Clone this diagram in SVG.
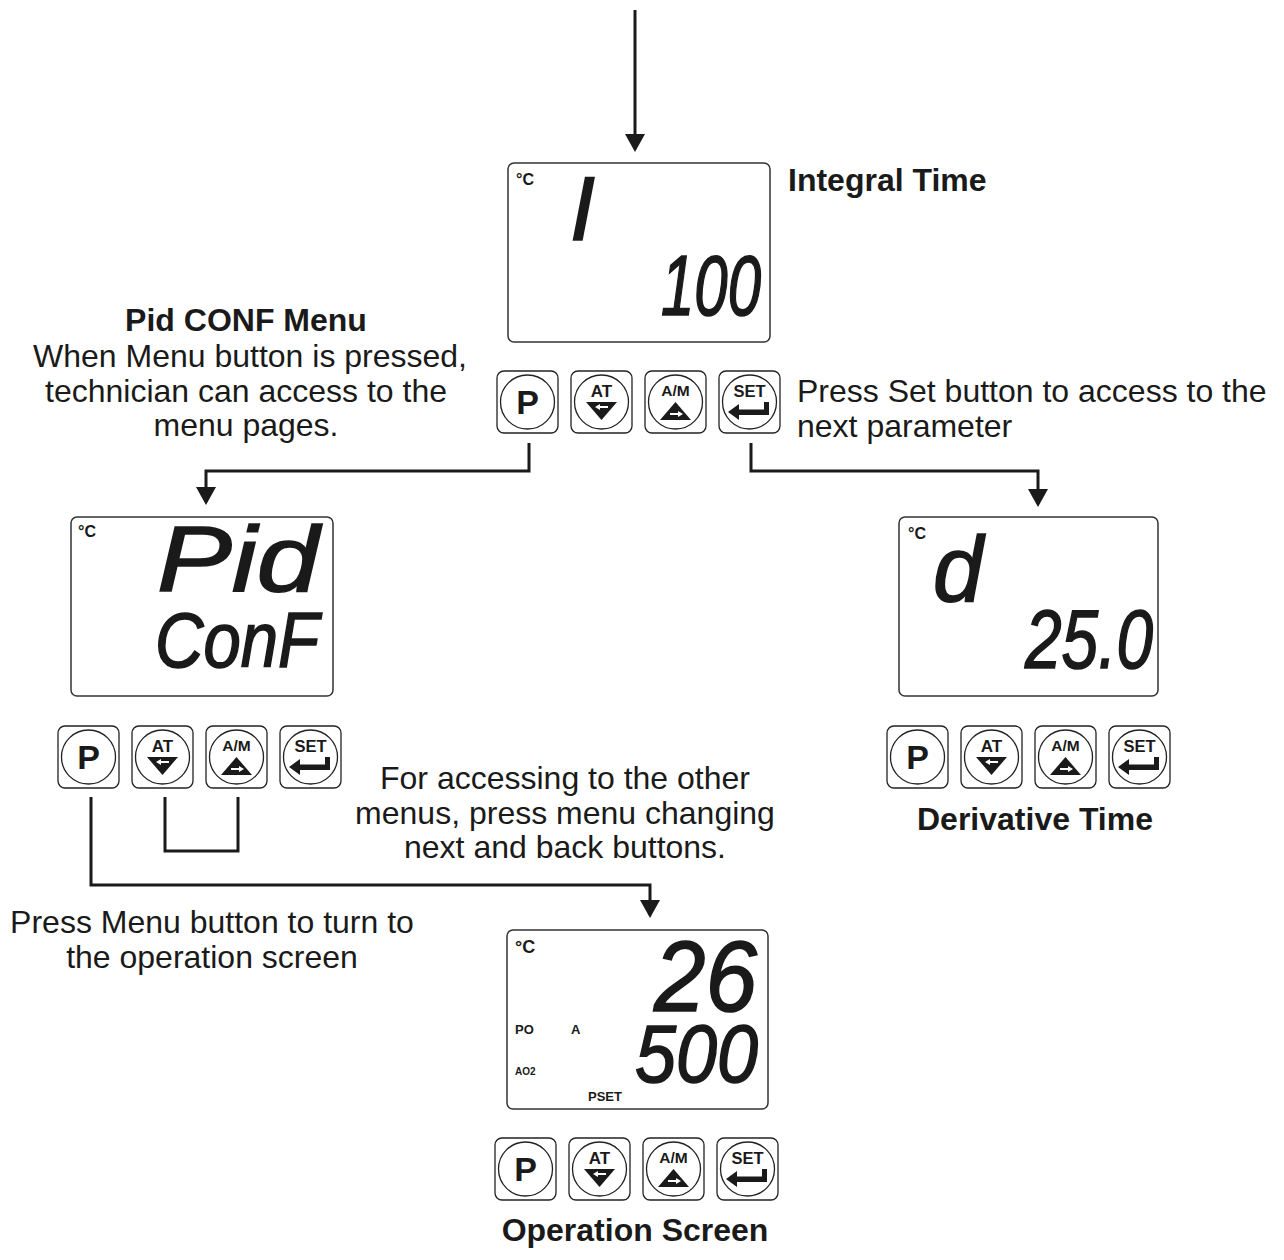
<svg xmlns="http://www.w3.org/2000/svg" xmlns:xlink="http://www.w3.org/1999/xlink" width="1284" height="1260" viewBox="0 0 1284 1260">
<style>
.lbl{font-family:"Liberation Sans",Arial,sans-serif;font-size:32px;fill:#1a1a1a;text-anchor:middle}
.lbl-l{font-family:"Liberation Sans",Arial,sans-serif;font-size:32px;fill:#1a1a1a}
.b{font-weight:bold}
.disp{fill:#fff;stroke:#333;stroke-width:1.5}
.ind{font-family:"Liberation Sans",Arial,sans-serif;font-weight:bold;fill:#1a1a1a}
.seg{font-family:"Liberation Sans",Arial,sans-serif;font-style:italic;fill:#1a1a1a;stroke:#1a1a1a;stroke-width:1.6}
.frame{fill:#fff;stroke:#222;stroke-width:1.3}
.btxt{font-family:"Liberation Sans",Arial,sans-serif;font-weight:bold;fill:#1a1a1a;text-anchor:middle}
.wire{fill:none;stroke:#1a1a1a;stroke-width:3}
</style>
<defs>
<marker id="ah" markerUnits="userSpaceOnUse" viewBox="0 0 18 20" refX="15" refY="10" markerWidth="18" markerHeight="20" orient="auto">
<path d="M0,0 L18,10 L0,20 z" fill="#1a1a1a"/>
</marker>
<g id="frame">
<rect class="frame" x="0" y="0" width="61" height="62" rx="7"/>
<circle class="frame" cx="30.5" cy="31" r="27"/>
</g>
<g id="bP">
<use xlink:href="#frame"/>
<text class="btxt" x="30.5" y="43" font-size="34">P</text>
</g>
<g id="bAT">
<use xlink:href="#frame"/>
<text class="btxt" x="30.5" y="26" font-size="17">AT</text>
<polygon points="15,31 46,31 30.5,49" fill="#1a1a1a"/>
<polygon points="24,36 29,33 29,35 37,35 37,37 29,37 29,39" fill="#fff"/>
</g>
<g id="bAM">
<use xlink:href="#frame"/>
<text class="btxt" x="30.5" y="25" font-size="15.5">A/M</text>
<polygon points="15,49 46,49 30.5,31" fill="#1a1a1a"/>
<polygon points="38,43 33,40 33,42 25,42 25,44 33,44 33,46" fill="#fff"/>
</g>
<g id="bSET">
<use xlink:href="#frame"/>
<text class="btxt" x="30.5" y="26" font-size="16.5">SET</text>
<polygon points="9,41 20,33 20,38.5 45,38.5 45,31 50,31 50,44 20,44 20,49" fill="#1a1a1a"/>
</g>
<g id="row">
<use xlink:href="#bP" x="0"/>
<use xlink:href="#bAT" x="74"/>
<use xlink:href="#bAM" x="148"/>
<use xlink:href="#bSET" x="222"/>
</g>
</defs>
<rect width="1284" height="1260" fill="#fff"/>

<g id="connectors">
<path class="wire" d="M635,10 V149" marker-end="url(#ah)"/>
<path class="wire" d="M529,443 V471 H206 V502" marker-end="url(#ah)"/>
<path class="wire" d="M751,443 V471 H1038 V504" marker-end="url(#ah)"/>
<path class="wire" d="M91,797 V885 H650 V915" marker-end="url(#ah)"/>
<path class="wire" d="M165,797 V851 H238 V797"/>
</g>

<g id="integral-time">
<rect class="disp" x="508" y="163" width="262" height="179" rx="6"/>
<text class="ind" x="516" y="185" font-size="16">°C</text>
<text class="seg" x="570" y="240" font-size="90">I</text>
<text class="seg" x="661" y="315" font-size="86" textLength="100" lengthAdjust="spacingAndGlyphs">100</text>
<use xlink:href="#row" x="497" y="371"/>
<text class="lbl-l b" x="788" y="191">Integral Time</text>
</g>

<g id="pid-conf">
<rect class="disp" x="71" y="517" width="262" height="179" rx="6"/>
<text class="ind" x="78" y="537" font-size="16">°C</text>
<text class="seg"><tspan x="157" y="591" font-size="92" textLength="162" lengthAdjust="spacingAndGlyphs">Pid</tspan><tspan x="155" y="667" font-size="78" textLength="164" lengthAdjust="spacingAndGlyphs">ConF</tspan></text>
<use xlink:href="#row" x="58" y="726"/>
</g>

<g id="derivative-time">
<rect class="disp" x="899" y="517" width="259" height="179" rx="6"/>
<text class="ind" x="908" y="539" font-size="16">°C</text>
<text class="seg" x="933" y="601" font-size="92" textLength="50" lengthAdjust="spacingAndGlyphs">d</text>
<text class="seg" x="1025" y="668" font-size="84" textLength="128" lengthAdjust="spacingAndGlyphs">25.0</text>
<use xlink:href="#row" x="887" y="726"/>
<text class="lbl b" x="1035" y="830">Derivative Time</text>
</g>

<g id="operation-screen">
<rect class="disp" x="507" y="930" width="261" height="179" rx="6"/>
<text class="ind" x="515" y="953" font-size="18">°C</text>
<text class="ind" x="515" y="1034" font-size="13">PO</text>
<text class="ind" x="571" y="1034" font-size="13">A</text>
<text class="ind" x="515" y="1075" font-size="10">AO2</text>
<text class="ind" x="588" y="1101" font-size="13">PSET</text>
<text class="seg"><tspan x="654" y="1011" font-size="100" textLength="103" lengthAdjust="spacingAndGlyphs">26</tspan><tspan x="635" y="1082" font-size="82" textLength="123" lengthAdjust="spacingAndGlyphs">500</tspan></text>
<use xlink:href="#row" x="495" y="1138"/>
<text class="lbl b" x="635" y="1241">Operation Screen</text>
</g>

<g id="notes">
<text class="lbl b" x="246" y="331">Pid CONF Menu</text>
<text class="lbl" x="250" y="367">When Menu button is pressed,</text>
<text class="lbl" x="246" y="402">technician can access to the</text>
<text class="lbl" x="246" y="436">menu pages.</text>
<text class="lbl-l" x="797" y="402">Press Set button to access to the</text>
<text class="lbl-l" x="797" y="437">next parameter</text>
<text class="lbl" x="565" y="789">For accessing to the other</text>
<text class="lbl" x="565" y="824">menus, press menu changing</text>
<text class="lbl" x="565" y="858">next and back buttons.</text>
<text class="lbl" x="212" y="933">Press Menu button to turn to</text>
<text class="lbl" x="212" y="968">the operation screen</text>
</g>
</svg>
